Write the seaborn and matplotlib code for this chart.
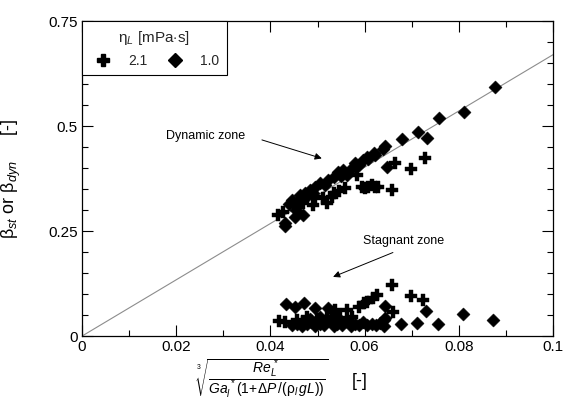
import numpy as np
import pandas as pd
import matplotlib
matplotlib.use("Agg")
import matplotlib.pyplot as plt
import seaborn as sns
from matplotlib.lines import Line2D
from matplotlib.ticker import FixedLocator, FixedFormatter, MultipleLocator

# ---- data -------------------------------------------------------------
# dynamic zone, eta_L = 1.0 mPa s
x_dyn_10 = [0.0431, 0.0452, 0.0470, 0.0445, 0.0463, 0.0484, 0.0505, 0.0523,
            0.0544, 0.0555, 0.0562, 0.0580, 0.0597, 0.0619, 0.0608, 0.0587,
            0.0622, 0.0638, 0.0643, 0.0647, 0.0679, 0.0713, 0.0733, 0.0758,
            0.0810, 0.0877, 0.0475, 0.0495, 0.0515, 0.0535, 0.0550, 0.0570,
            0.0490, 0.0440, 0.0455, 0.0430, 0.0604, 0.0473]
b_dyn_10 = [0.262, 0.283, 0.288, 0.324, 0.336, 0.348, 0.364, 0.371,
            0.391, 0.395, 0.383, 0.411, 0.419, 0.435, 0.421, 0.407,
            0.431, 0.445, 0.452, 0.403, 0.469, 0.487, 0.471, 0.520,
            0.533, 0.592, 0.330, 0.355, 0.360, 0.378, 0.380, 0.398,
            0.340, 0.315, 0.300, 0.269, 0.427, 0.340]

# dynamic zone, eta_L = 2.1 mPa s
x_dyn_21 = [0.0427, 0.0459, 0.0491, 0.0512, 0.0530, 0.0558, 0.0583, 0.0594,
            0.0608, 0.0622, 0.0601, 0.0615, 0.0629, 0.0658, 0.0665, 0.0699,
            0.0728, 0.0417, 0.0470, 0.0545, 0.0520, 0.0459, 0.0495, 0.0534]
b_dyn_21 = [0.296, 0.308, 0.312, 0.328, 0.332, 0.352, 0.383, 0.355,
            0.355, 0.355, 0.352, 0.360, 0.354, 0.348, 0.411, 0.398,
            0.423, 0.288, 0.318, 0.345, 0.318, 0.316, 0.332, 0.340]

# stagnant zone, eta_L = 1.0 mPa s
x_st_10 = [0.0433, 0.0453, 0.0472, 0.0494, 0.0523, 0.0644, 0.0731, 0.0677,
           0.0711, 0.0756, 0.0808, 0.0873, 0.0643,
           0.0446, 0.0456, 0.0467, 0.0477, 0.0486, 0.0495, 0.0506, 0.0514,
           0.0523, 0.0534, 0.0542, 0.0551, 0.0561, 0.0570, 0.0580, 0.0589,
           0.0597, 0.0606, 0.0615, 0.0624, 0.0632, 0.0641, 0.0641, 0.0541,
           0.0506, 0.0485]
b_st_10 = [0.076, 0.070, 0.078, 0.066, 0.068, 0.071, 0.060, 0.030,
           0.032, 0.029, 0.052, 0.038, 0.042,
           0.026, 0.030, 0.024, 0.029, 0.034, 0.024, 0.030, 0.026,
           0.038, 0.024, 0.030, 0.026, 0.037, 0.024, 0.030, 0.026,
           0.034, 0.026, 0.030, 0.026, 0.032, 0.024, 0.038, 0.046,
           0.046, 0.040]

# stagnant zone, eta_L = 2.1 mPa s
x_st_21 = [0.0658, 0.0698, 0.0724, 0.0627, 0.0618, 0.0599, 0.0604, 0.0587,
           0.0562, 0.0537, 0.0661, 0.0418, 0.0432, 0.0456, 0.0477, 0.0499,
           0.0520, 0.0530, 0.0548, 0.0573, 0.0470, 0.0509]
b_st_21 = [0.121, 0.095, 0.087, 0.098, 0.090, 0.080, 0.082, 0.070,
           0.063, 0.063, 0.058, 0.037, 0.034, 0.038, 0.046, 0.040,
           0.046, 0.058, 0.042, 0.046, 0.034, 0.034]

# reference line beta = k * x
line_x = [0.0, 0.1]
line_slope = 6.7

x_ticks = [0, 0.02, 0.04, 0.06, 0.08, 0.1]
x_tick_labels = ["0", "0.02", "0.04", "0.06", "0.08", "0.1"]
y_ticks = [0, 0.25, 0.5, 0.75]
y_tick_labels = ["0", "0.25", "0.5", "0.75"]
viscosity_labels = ["2.1", "1.0"]

# ---- table -------------------------------------------------------------
frames = []
for xs, bs, eta, zone in [(x_dyn_10, b_dyn_10, "1.0", "dynamic"),
                          (x_dyn_21, b_dyn_21, "2.1", "dynamic"),
                          (x_st_10, b_st_10, "1.0", "stagnant"),
                          (x_st_21, b_st_21, "2.1", "stagnant")]:
    frames.append(pd.DataFrame({"x": xs, "beta": bs, "eta": eta, "zone": zone}))
df = pd.concat(frames, ignore_index=True)
line_df = pd.DataFrame({"x": line_x, "beta": [line_slope * v for v in line_x]})

# ---- style -------------------------------------------------------------
sns.set_theme(style="ticks")
plt.rcParams["font.family"] = ["Liberation Sans", "DejaVu Sans"]
plt.rcParams["mathtext.fontset"] = "custom"
plt.rcParams["mathtext.rm"] = "Liberation Sans"
plt.rcParams["mathtext.it"] = "Liberation Sans:italic"
plt.rcParams["mathtext.bf"] = "Liberation Sans:bold"

fig = plt.figure(figsize=(5.65, 4.04), dpi=100)
ax = fig.add_axes([0.145, 0.168, 0.834, 0.780])

sns.lineplot(data=line_df, x="x", y="beta", color="#8c8c8c", lw=0.8, ax=ax)

marker_map = {"2.1": "P", "1.0": "D"}
size_map = {"2.1": 75, "1.0": 45}
for eta in viscosity_labels:
    sub = df[df["eta"] == eta]
    sns.scatterplot(data=sub, x="x", y="beta", marker=marker_map[eta],
                    s=size_map[eta], color="black", edgecolor="black",
                    linewidth=0.3, legend=False, ax=ax, zorder=3)

ax.set_xlim(0, 0.1)
ax.set_ylim(0, 0.75)
ax.xaxis.set_major_locator(FixedLocator(x_ticks))
ax.xaxis.set_major_formatter(FixedFormatter(x_tick_labels))
ax.xaxis.set_minor_locator(MultipleLocator(0.01))
ax.yaxis.set_major_locator(FixedLocator(y_ticks))
ax.yaxis.set_major_formatter(FixedFormatter(y_tick_labels))
ax.yaxis.set_minor_locator(MultipleLocator(0.05))
ax.tick_params(which="both", direction="in", top=True, right=True,
               color="black", width=0.8)
ax.tick_params(which="major", length=8, labelsize=11, pad=3, labelcolor="black")
ax.tick_params(which="minor", length=4)
for sp in ax.spines.values():
    sp.set_color("black")
    sp.set_linewidth(0.9)

ax.set_xlabel("")
ax.set_ylabel(r"$\mathrm{\beta}_{st}$ or $\mathrm{\beta}_{dyn}$     [-]",
              fontsize=13, color="black")
ax.yaxis.set_label_coords(-0.125, 0.5)

# x-axis label: cube-root group
fig.text(0.464, 0.062,
         r"$\sqrt[3]{\dfrac{Re_L^{\,*}}{Ga_l^{\,*}(1\!+\!\Delta P\,/(\mathrm{\rho}_l\, gL))}}$",
         ha="center", va="center", fontsize=10, color="black")
fig.text(0.637, 0.055, "[-]", ha="center", va="center", fontsize=13, color="black")

# zone annotations
ax.text(0.0346, 0.476, "Dynamic zone", ha="right", va="center", fontsize=9,
        color="black")
ax.annotate("", xy=(0.0509, 0.423), xytext=(0.0382, 0.467),
            arrowprops=dict(arrowstyle="-|>", color="black", lw=0.7,
                            mutation_scale=10, shrinkA=0, shrinkB=0))
ax.text(0.0596, 0.226, "Stagnant zone", ha="left", va="center", fontsize=9,
        color="black")
ax.annotate("", xy=(0.0533, 0.141), xytext=(0.066, 0.199),
            arrowprops=dict(arrowstyle="-|>", color="black", lw=0.7,
                            mutation_scale=10, shrinkA=0, shrinkB=0))

# legend
handles = [Line2D([], [], ls="none", marker=marker_map[e], color="black",
                  markersize=9 if e == "2.1" else 7.5) for e in viscosity_labels]
leg = ax.legend(handles, viscosity_labels,
                title=r"$\mathrm{\eta}_L$ [mPa$\cdot$s]",
                ncol=2, loc="upper left", borderaxespad=0, frameon=True,
                fancybox=False, edgecolor="black", fontsize=10,
                title_fontsize=11, handletextpad=0.8, columnspacing=0.95,
                borderpad=0.55, handlelength=2.0)
leg.get_frame().set_linewidth(0.8)
leg.get_frame().set_alpha(1)

fig.savefig("out.png", dpi=100, facecolor="white")
